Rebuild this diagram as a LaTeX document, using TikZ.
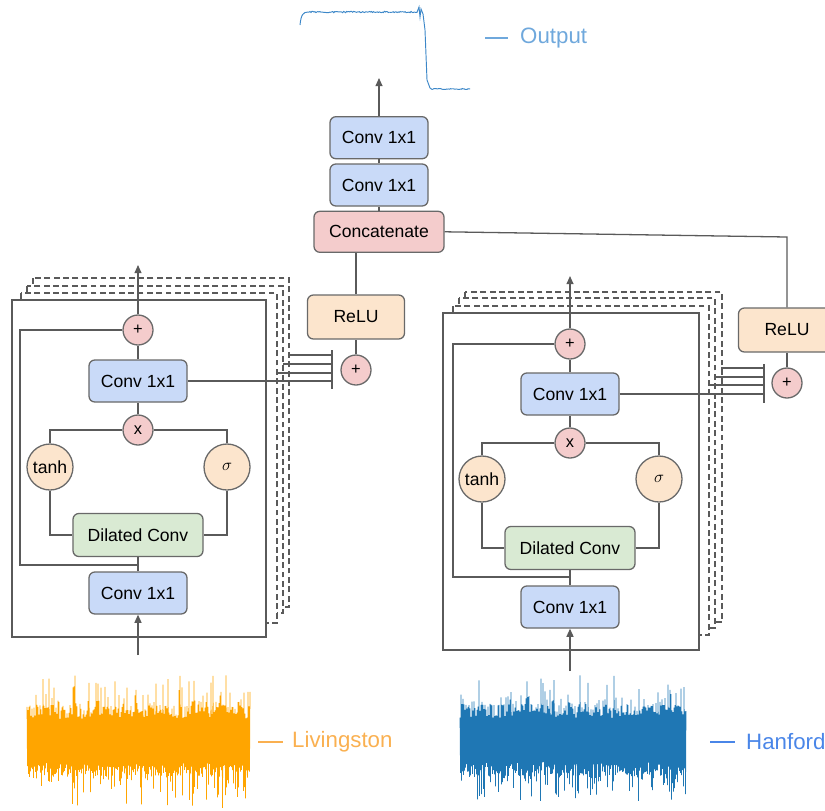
\documentclass[tikz,border=0pt]{standalone}
\usepackage{fontspec}
\setmainfont{Liberation Sans}
\usetikzlibrary{positioning,arrows.meta,calc}
\definecolor{wnLine}{RGB}{90,90,90}
\definecolor{wnEdge}{RGB}{105,105,105}
\definecolor{wnBlue}{RGB}{201,218,248}
\definecolor{wnPink}{RGB}{244,204,204}
\definecolor{wnPeach}{RGB}{252,229,205}
\definecolor{wnGreen}{RGB}{217,234,211}
\definecolor{wnOrange}{RGB}{255,165,0}
\definecolor{wnOrangeText}{RGB}{250,176,80}
\definecolor{wnSignal}{RGB}{31,119,180}
\definecolor{wnHanford}{RGB}{74,134,232}
\definecolor{wnOutput}{RGB}{111,168,220}
\definecolor{wnOutCurve}{RGB}{60,135,200}

\begin{document}
\begin{tikzpicture}[x=0.03cm, y=-0.03cm,
  box/.style={draw=wnEdge, line width=1.1pt, rounded corners=5pt, inner sep=0pt,
    font=\fontsize{15}{17}\selectfont},
  conv/.style={box, fill=wnBlue, minimum width=2.94cm, minimum height=1.26cm},
  dil/.style={box, fill=wnGreen, minimum width=3.9cm, minimum height=1.29cm},
  relu/.style={box, fill=wnPeach, minimum width=2.91cm, minimum height=1.32cm},
  concat/.style={box, fill=wnPink, minimum width=3.9cm, minimum height=1.23cm},
  op/.style={circle, draw=wnEdge, line width=1.1pt, fill=wnPink, minimum size=0.9cm,
    inner sep=0pt, font=\fontsize{14}{16}\selectfont},
  act/.style={circle, draw=wnEdge, line width=1.1pt, fill=wnPeach, minimum size=1.38cm,
    inner sep=0pt, font=\fontsize{15}{17}\selectfont},
  wire/.style={wnLine, line width=1.1pt},
  flow/.style={wire, -{Triangle[length=7pt,width=6pt]}},
  frame/.style={draw=wnLine, line width=1.1pt, fill=white},
  ghost/.style={frame, dashed, dash pattern=on 5pt off 3pt},
  legend/.style={anchor=west, inner sep=0pt, font=\fontsize{19}{22}\selectfont}]

  \useasboundingbox (0,0) rectangle (825,810);
  \clip (0,0) rectangle (825,810);

  % Output trace
  \draw[wnOutCurve, line width=0.8pt] (300,25) .. controls (301,15) and (303,12) .. (308,12)
    -- plot[domain=309:417, samples=110] (\x,{12+0.7*rand})
    -- (419,7) -- (420,17) -- (421,9) -- (423,14) -- (425,30) -- (427,80) -- (430,88)
    -- plot[domain=432:470, samples=40] (\x,{89+0.5*rand});
  \draw[wnOutput, line width=1pt] (485,38) -- (508,38);
  \node[legend, text=wnOutput] (outLabel) at (520,38) {Output};

  % Head
  \node[conv] (top1) at (379,185) {Conv 1x1};
  \node[conv, above=0.12cm of top1] (top2) {Conv 1x1};
  \node[concat, below=0.12cm of top1] (concat) {Concatenate};
  \coordinate (outTip) at (379,78);
  \draw[flow] (top2.north) -- (outTip);
  \draw[wire] (top1) -- (top2);
  \draw[wire] (concat) -- (top1);

  % Left stack of residual blocks
  \draw[ghost] (33,278) rectangle (289,607);
  \draw[ghost] (27,286) rectangle (283,613);
  \draw[ghost] (21,293) rectangle (277,623);
  \draw[frame] (12,300) rectangle (266,637);

  \node[op] (lsum) at (138,330) {+};
  \node[conv] (lres) at (138,381) {Conv 1x1};
  \node[op] (lmul) at (138,430) {x};
  \node[act] (ltanh) at (50,467) {tanh};
  \node[act] (lsig) at (227,467) {$\sigma$};
  \node[dil] (ldil) at (138,535) {Dilated Conv};
  \node[conv] (lin) at (138,593) {Conv 1x1};
  \coordinate (lout) at (138,265);
  \coordinate (lsrc) at (138,655);
  \coordinate (lskip) at (20,450);
  \coordinate (ljoin) at (138,565);

  \draw[flow] (lsum) -- (lout);
  \draw[wire] (lres) -- (lsum);
  \draw[wire] (lmul) -- (lres);
  \draw[wire] (lmul.west) -| (ltanh.north);
  \draw[wire] (lmul.east) -| (lsig.north);
  \draw[wire] (ltanh.south) |- (ldil.west);
  \draw[wire] (lsig.south) |- (ldil.east);
  \draw[wire] (lin) -- (ldil);
  \draw[wire] (lsum.west) -| (lskip) |- (ljoin);
  \draw[flow] (lsrc) -- (lin.south);

  % Left skip outputs summed
  \node[relu] (lrelu) at (356,317) {ReLU};
  \node[op] (lplus) at (356,370) {+};
  \coordinate (lbarT) at (332,350);
  \coordinate (lbarB) at (332,389);
  \coordinate (ltap1) at (277,373);
  \coordinate (ltap2) at (283,364);
  \coordinate (ltap3) at (289,355);
  \draw[wire] (lbarT) -- (lbarB);
  \draw[wire] (lres.east) -- (lres.east -| lbarT);
  \foreach \t in {ltap1,ltap2,ltap3}
    \draw[wire] (\t) -- (\t -| lbarT);
  \draw[wire] (lplus) -- (lrelu);
  \draw[wire] (lrelu.north) -- (lrelu.north |- concat.south);

  % Right stack of residual blocks
  \draw[ghost] (465,292) rectangle (722,622);
  \draw[ghost] (459,298) rectangle (715,628);
  \draw[ghost] (453,306) rectangle (709,635);
  \draw[frame] (443,313) rectangle (699,650);

  \node[op] (rsum) at (570,344) {+};
  \node[conv] (rres) at (570,394) {Conv 1x1};
  \node[op] (rmul) at (570,443) {x};
  \node[act] (rtanh) at (482,479) {tanh};
  \node[act] (rsig) at (659,479) {$\sigma$};
  \node[dil] (rdil) at (570,548) {Dilated Conv};
  \node[conv] (rin) at (570,607) {Conv 1x1};
  \coordinate (rout) at (570,276);
  \coordinate (rsrc) at (570,671);
  \coordinate (rskip) at (453,460);
  \coordinate (rjoin) at (570,577);

  \draw[flow] (rsum) -- (rout);
  \draw[wire] (rres) -- (rsum);
  \draw[wire] (rmul) -- (rres);
  \draw[wire] (rmul.west) -| (rtanh.north);
  \draw[wire] (rmul.east) -| (rsig.north);
  \draw[wire] (rtanh.south) |- (rdil.west);
  \draw[wire] (rsig.south) |- (rdil.east);
  \draw[wire] (rin) -- (rdil);
  \draw[wire] (rsum.west) -| (rskip) |- (rjoin);
  \draw[flow] (rsrc) -- (rin.south);

  % Right skip outputs summed
  \node[relu] (rrelu) at (787,330) {ReLU};
  \node[op] (rplus) at (787,383) {+};
  \coordinate (rbarT) at (764,364);
  \coordinate (rbarB) at (764,403);
  \coordinate (rtap1) at (709,385);
  \coordinate (rtap2) at (715,377);
  \coordinate (rtap3) at (721,368);
  \coordinate (rbend) at (787,237);
  \draw[wire] (rbarT) -- (rbarB);
  \draw[wire] (rres.east) -- (rres.east -| rbarT);
  \foreach \t in {rtap1,rtap2,rtap3}
    \draw[wire] (\t) -- (\t -| rbarT);
  \draw[wire] (rplus) -- (rrelu);
  \draw[wire] (concat.east) -- (rbend) -- (rrelu.north);

  % Detector strains
  \pgfmathsetseed{11}
  \draw[wnOrange, line width=0.6pt]
    plot[domain=27:250, samples=447]
      (\x,{741+(2*mod(round(2*\x),2)-1)*(22+14*rnd+32*rnd^4)});
  \draw[wnOrangeText, line width=1pt] (258,742) -- (283,742);
  \node[legend, text=wnOrangeText] (livLabel) at (292,742) {Livingston};

  \draw[wnSignal, line width=0.6pt]
    plot[domain=460:686, samples=453]
      (\x,{740+(2*mod(round(2*\x),2)-1)*(22+14*rnd+32*rnd^4)});
  \draw[wnHanford, line width=1pt] (710,742) -- (735,742);
  \node[legend, text=wnHanford] (hanLabel) at (746,742) {Hanford};
\end{tikzpicture}
\end{document}
